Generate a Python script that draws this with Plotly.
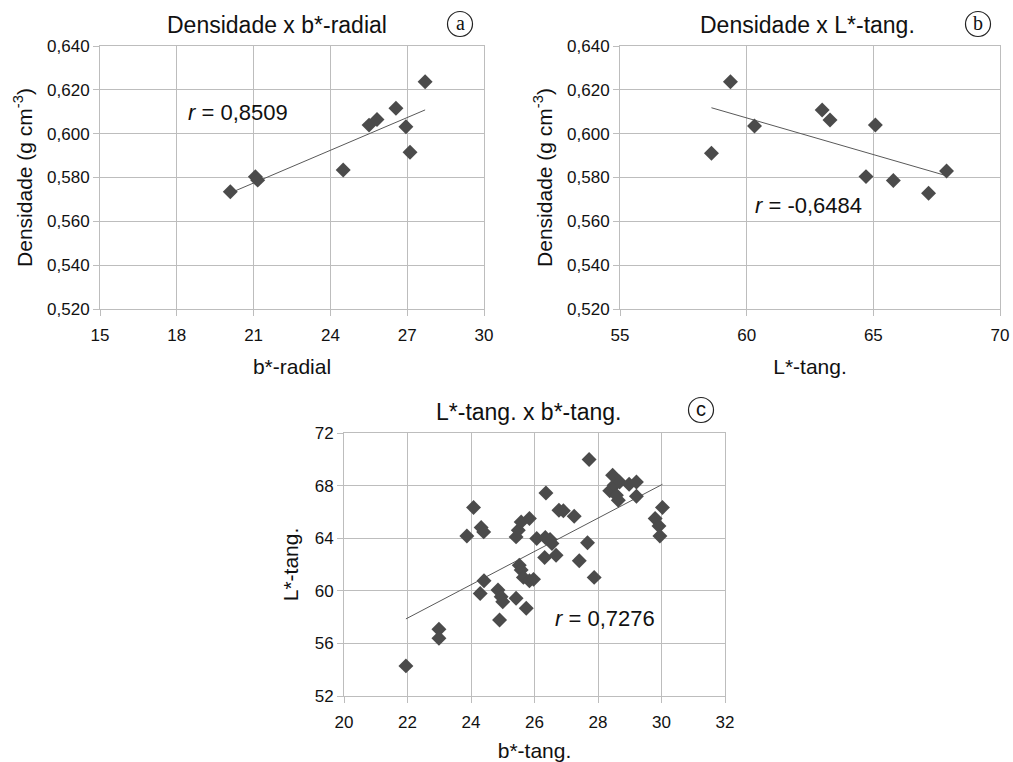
import numpy as np
import plotly.graph_objects as go

W, H = 1013, 762

# ---------------- data ----------------
# Panel a: Densidade x b*-radial
a_bstar_radial = [20.09, 21.07, 21.16, 24.50, 25.51, 25.82, 26.56, 26.95, 27.11, 27.70]
a_densidade = [0.5735, 0.5803, 0.5788, 0.5834, 0.6039, 0.6065, 0.6116, 0.6032, 0.5915, 0.6237]
a_r_text = "<i>r</i> = 0,8509"

# Panel b: Densidade x L*-tang.
b_lstar_tang = [58.61, 59.36, 60.31, 62.98, 63.29, 64.71, 65.08, 65.79, 67.18, 67.89]
b_densidade = [0.5911, 0.6237, 0.6035, 0.6108, 0.6062, 0.5804, 0.6040, 0.5786, 0.5728, 0.5830]
b_r_text = "<i>r</i> = -0,6484"

# Panel c: L*-tang. x b*-tang.
c_bstar_tang = [21.95, 22.99, 22.99, 23.87, 24.08, 24.32, 24.40, 24.29, 24.41, 24.85,
                24.90, 24.95, 25.00, 25.42, 25.74, 25.42, 25.49, 25.58, 25.84, 25.52,
                25.58, 25.65, 25.84, 25.97, 26.07, 26.36, 26.34, 26.49, 26.55, 26.32,
                26.68, 26.77, 26.91, 27.25, 27.41, 27.67, 27.72, 27.88, 28.46, 28.37,
                28.51, 28.58, 28.64, 28.68, 28.98, 29.21, 29.21, 29.80, 30.03, 29.92,
                29.95]
c_lstar_tang = [54.29, 57.07, 56.39, 64.16, 66.34, 64.82, 64.48, 59.80, 60.76, 60.06,
                57.78, 59.55, 59.17, 59.43, 58.67, 64.10, 64.61, 65.24, 65.50, 61.95,
                61.58, 61.02, 60.76, 60.87, 63.98, 67.44, 64.05, 63.90, 63.60, 62.54,
                62.71, 66.13, 66.08, 65.67, 62.28, 63.65, 69.98, 61.02, 68.79, 67.60,
                68.03, 67.27, 66.89, 68.28, 68.10, 68.28, 67.19, 65.50, 66.34, 64.92,
                64.16]
c_r_text = "<i>r</i> = 0,7276"

titles = ["Densidade x b*-radial", "Densidade x L*-tang.", "L*-tang. x b*-tang."]
panel_letters = ["a", "b", "c"]

# ---------------- styling ----------------
FONT = "Liberation Sans, Arial, sans-serif"
MARKER_COLOR = "#4b4b4b"
LINE_COLOR = "#595959"
GRID = "#bdbdbd"
TXT = "#111111"
TICK_SIZE = 17
AXT_SIZE = 21
TITLE_SIZE = 23
ANN_SIZE = 22


def px_x(x):
    return x / W


def px_y(y):
    return 1 - y / H


fig = go.Figure()

panels = [
    dict(x=a_bstar_radial, y=a_densidade, xa="x", ya="y",
         xdom=(100, 484), ydom=(46, 309)),
    dict(x=b_lstar_tang, y=b_densidade, xa="x2", ya="y2",
         xdom=(620, 1000), ydom=(46, 309)),
    dict(x=c_bstar_tang, y=c_lstar_tang, xa="x3", ya="y3",
         xdom=(344, 725), ydom=(433, 696)),
]

for p in panels:
    xs = np.array(p["x"])
    ys = np.array(p["y"])
    slope, intercept = np.polyfit(xs, ys, 1)
    lx = np.array([xs.min(), xs.max()])
    fig.add_trace(go.Scatter(x=lx, y=slope * lx + intercept, mode="lines",
                             line=dict(color=LINE_COLOR, width=1),
                             xaxis=p["xa"], yaxis=p["ya"], showlegend=False,
                             hoverinfo="skip"))
    fig.add_trace(go.Scatter(x=xs, y=ys, mode="markers",
                             marker=dict(symbol="diamond", size=11.5, color=MARKER_COLOR),
                             xaxis=p["xa"], yaxis=p["ya"], showlegend=False))

common_ax = dict(showgrid=True, gridcolor=GRID, gridwidth=1, zeroline=False,
                 showline=True, linecolor=GRID, linewidth=1, mirror=True,
                 ticks="outside", ticklen=6, tickcolor=GRID,
                 tickfont=dict(family=FONT, size=TICK_SIZE, color=TXT))


def xdom(d):
    return [px_x(d[0]), px_x(d[1])]


def ydom(d):
    return [px_y(d[1]), px_y(d[0])]


def axtitle(text, standoff):
    return dict(text=text, font=dict(family=FONT, size=AXT_SIZE, color=TXT), standoff=standoff)


fig.update_layout(
    xaxis=dict(common_ax, domain=xdom(panels[0]["xdom"]), anchor="y",
               range=[15, 30], dtick=3, tick0=15, ticklabelstandoff=5,
               title=axtitle("b*-radial", 14)),
    yaxis=dict(common_ax, domain=ydom(panels[0]["ydom"]), anchor="x",
               range=[0.52, 0.64], dtick=0.02, tick0=0.52, tickformat=".3f",
               title=axtitle("Densidade (g cm<sup>-3</sup>)", 8)),
    xaxis2=dict(common_ax, domain=xdom(panels[1]["xdom"]), anchor="y2",
                range=[55, 70], dtick=5, tick0=55, ticklabelstandoff=5,
                title=axtitle("L*-tang.", 14)),
    yaxis2=dict(common_ax, domain=ydom(panels[1]["ydom"]), anchor="x2",
                range=[0.52, 0.64], dtick=0.02, tick0=0.52, tickformat=".3f",
                title=axtitle("Densidade (g cm<sup>-3</sup>)", 8)),
    xaxis3=dict(common_ax, domain=xdom(panels[2]["xdom"]), anchor="y3",
                range=[20, 32], dtick=2, tick0=20, ticklabelstandoff=5,
                title=axtitle("b*-tang.", 14)),
    yaxis3=dict(common_ax, domain=ydom(panels[2]["ydom"]), anchor="x3",
                range=[52, 72], dtick=4, tick0=52,
                title=axtitle("L*-tang.", 10)),
    separators=",.",
    width=W, height=H,
    margin=dict(l=0, r=0, t=0, b=0, pad=0, autoexpand=False),
    paper_bgcolor="white", plot_bgcolor="white",
    font=dict(family=FONT, color=TXT),
)

# titles
title_pos = [(277, 25), (807, 25), (528, 412)]
for t, (tx, ty) in zip(titles, title_pos):
    fig.add_annotation(text=t, xref="paper", yref="paper", x=px_x(tx), y=px_y(ty),
                       xanchor="center", yanchor="middle", showarrow=False,
                       font=dict(family=FONT, size=TITLE_SIZE, color=TXT))

# r annotations
r_pos = [(a_r_text, 186, 112), (b_r_text, 753, 205), (c_r_text, 553, 618)]
for t, rx, ry in r_pos:
    fig.add_annotation(text=t, xref="paper", yref="paper", x=px_x(rx), y=px_y(ry),
                       xanchor="left", yanchor="middle", showarrow=False,
                       font=dict(family=FONT, size=ANN_SIZE, color=TXT))

# circled panel letters
circ_pos = [(460, 24), (978, 24), (701, 410)]
letter_fonts = ["Liberation Serif, serif", "Liberation Serif, serif", FONT]
for letter, (cx, cy), lf in zip(panel_letters, circ_pos, letter_fonts):
    r = 12.5
    fig.add_shape(type="circle", xref="paper", yref="paper",
                  x0=px_x(cx - r), x1=px_x(cx + r), y0=px_y(cy + r), y1=px_y(cy - r),
                  line=dict(color="#222222", width=1.2))
    fig.add_annotation(text=letter, xref="paper", yref="paper", x=px_x(cx), y=px_y(cy - 1),
                       xanchor="center", yanchor="middle", showarrow=False,
                       font=dict(family=lf, size=20, color=TXT))

fig.write_html(
    "out.html",
    config={"displayModeBar": False},
    post_script="document.body.style.margin='0';document.body.style.padding='0';"
                "document.documentElement.style.overflow='hidden';",
)
